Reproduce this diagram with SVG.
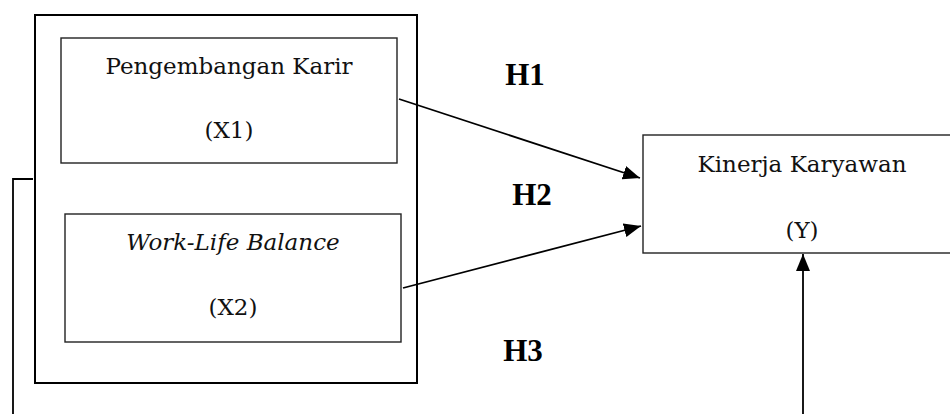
<svg xmlns="http://www.w3.org/2000/svg" width="950" height="414" viewBox="0 0 950 414">
  <style>
    .frame { fill: none; stroke: #000; stroke-width: 2; }
    .box { fill: #fff; stroke: #222; stroke-width: 1.4; }
    .label { font-family: "DejaVu Serif", "Liberation Serif", serif; font-size: 23px; fill: #111; text-anchor: middle; }
    .it { font-style: italic; }
    .hyp { font-family: "Liberation Serif", "Times New Roman", serif; font-size: 31px; font-weight: bold; fill: #000; text-anchor: middle; }
    .link { fill: none; stroke: #000; stroke-width: 1.8; }
  </style>
  <defs>
    <marker id="arrow" markerUnits="userSpaceOnUse" markerWidth="18" markerHeight="14" refX="17" refY="7" orient="auto">
      <path d="M0,0 L17,7 L0,14 Z" fill="#000"/>
    </marker>
  </defs>
  <rect width="950" height="414" fill="#fff"/>

  <!-- grouping frame around the independent variables -->
  <g id="independent-group">
    <rect class="frame" x="35" y="15" width="382" height="368"/>
  </g>

  <g id="node-x1">
    <rect class="box" x="61" y="38" width="336" height="125"/>
    <text class="label" x="229" y="74">Pengembangan Karir</text>
    <text class="label" x="229" y="138">(X1)</text>
  </g>

  <g id="node-x2">
    <rect class="box" x="65" y="214" width="336" height="128"/>
    <text class="label it" x="233" y="250">Work-Life Balance</text>
    <text class="label" x="233" y="315">(X2)</text>
  </g>

  <g id="node-y">
    <rect class="box" x="643" y="135" width="320" height="118"/>
    <text class="label" x="802" y="172">Kinerja Karyawan</text>
    <text class="label" x="802" y="238">(Y)</text>
  </g>

  <g id="connectors">
    <line class="link" x1="399" y1="99" x2="640" y2="178" marker-end="url(#arrow)"/>
    <line class="link" x1="403" y1="288" x2="641" y2="226" marker-end="url(#arrow)"/>
    <polyline class="link" points="33,179 13,179 13,414"/>
    <line class="link" x1="803" y1="414" x2="803" y2="254" marker-end="url(#arrow)"/>
  </g>

  <g id="hypotheses">
    <text class="hyp" x="525" y="85">H1</text>
    <text class="hyp" x="532" y="205">H2</text>
    <text class="hyp" x="523" y="361">H3</text>
  </g>
</svg>
